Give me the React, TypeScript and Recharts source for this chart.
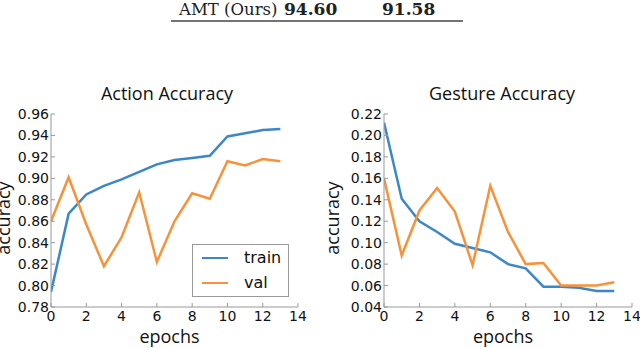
import React from 'react';
import { LineChart, Line, XAxis, YAxis, Legend, Label } from 'recharts';

const epochs = [0, 1, 2, 3, 4, 5, 6, 7, 8, 9, 10, 11, 12, 13];
const actionTrain = [0.794, 0.867, 0.885, 0.893, 0.899, 0.906, 0.913, 0.917, 0.919, 0.921, 0.939, 0.942, 0.945, 0.946];
const actionVal = [0.86, 0.901, 0.857, 0.818, 0.845, 0.887, 0.822, 0.86, 0.886, 0.881, 0.916, 0.912, 0.918, 0.916];
const gestureTrain = [0.212, 0.141, 0.12, 0.11, 0.099, 0.095, 0.091, 0.08, 0.076, 0.059, 0.059, 0.058, 0.055, 0.055];
const gestureVal = [0.16, 0.088, 0.13, 0.151, 0.129, 0.079, 0.153, 0.11, 0.08, 0.081, 0.06, 0.06, 0.06, 0.063];

const xTicks = [0, 2, 4, 6, 8, 10, 12, 14];
const actionTicks = [0.78, 0.8, 0.82, 0.84, 0.86, 0.88, 0.9, 0.92, 0.94, 0.96];
const gestureTicks = [0.04, 0.06, 0.08, 0.1, 0.12, 0.14, 0.16, 0.18, 0.2, 0.22];

const BLUE = '#3c87c8';
const ORANGE = '#f7923a';
const FRAME = '#999';
const TICK_FONT = { fill: '#111', fontSize: 14, fontFamily: 'DejaVu Sans' };
const LABEL_FONT = 'Open Sans';

function LegendBox({ payload }: any) {
  return (
    <div
      style={{
        width: 97,
        height: 53,
        boxSizing: 'border-box',
        border: `1px solid ${FRAME}`,
        background: '#fff',
        fontFamily: 'DejaVu Sans',
        fontSize: 16,
        color: '#111',
        position: 'relative',
      }}
    >
      {(payload || []).map((p: any, i: number) => (
        <div key={p.value} style={{ position: 'absolute', left: 9, top: 3 + i * 25, height: 20, display: 'flex', alignItems: 'center' }}>
          <span style={{ display: 'inline-block', width: 26, height: 2.5, background: p.color, marginRight: 16 }} />
          <span style={{ lineHeight: '20px' }}>{p.value}</span>
        </div>
      ))}
    </div>
  );
}

interface PanelProps {
  train: number[];
  val: number[];
  yTicks: number[];
  axisWidth: number;
  marginRight: number;
  ylabelX: number;
  legend?: boolean;
}

function Panel({ train, val, yTicks, axisWidth, marginRight, ylabelX, legend }: PanelProps) {
  const data = epochs.map((e, i) => ({ epoch: e, train: train[i], val: val[i] }));
  const domain = [yTicks[0], yTicks[yTicks.length - 1]];
  return (
    <LineChart width={320} height={268} data={data} margin={{ top: 34, right: marginRight, bottom: 0, left: 0 }}>
      <XAxis
        dataKey="epoch"
        type="number"
        domain={[0, 14]}
        ticks={xTicks}
        allowDataOverflow
        height={41}
        tickSize={-4}
        tickMargin={8}
        stroke={FRAME}
        tick={TICK_FONT}
      >
        <Label
          content={(p: any) => (
            <text
              x={p.viewBox.x + p.viewBox.width / 2 - 5}
              y={p.viewBox.y + 36}
              textAnchor="middle"
              fontFamily={LABEL_FONT}
              fontSize={18}
              fill="#111"
            >
              epochs
            </text>
          )}
        />
      </XAxis>
      <XAxis
        xAxisId="top"
        orientation="top"
        type="number"
        domain={[0, 14]}
        ticks={xTicks}
        allowDataOverflow
        height={0}
        tickSize={-4}
        tick={false}
        stroke={FRAME}
      />
      <YAxis
        type="number"
        domain={domain}
        ticks={yTicks}
        allowDataOverflow
        width={axisWidth}
        tickSize={-4}
        tickMargin={6}
        stroke={FRAME}
        tick={TICK_FONT}
        tickFormatter={(v: number) => v.toFixed(2)}
      >
        <Label
          content={() => {
            const cy = 218 - 80;
            return (
              <text
                x={ylabelX}
                y={cy}
                transform={`rotate(-90 ${ylabelX} ${cy})`}
                textAnchor="middle"
                fontFamily={LABEL_FONT}
                fontSize={18}
                fill="#111"
              >
                accuracy
              </text>
            );
          }}
        />
      </YAxis>
      <YAxis
        yAxisId="right"
        orientation="right"
        type="number"
        domain={domain}
        ticks={yTicks}
        allowDataOverflow
        width={0}
        tickSize={-4}
        tick={false}
        stroke={FRAME}
      />
      {legend && (
        <Legend
          layout="horizontal"
          verticalAlign="middle"
          align="center"
          wrapperStyle={{ left: 192, top: 164, width: 97, height: 53 }}
          content={<LegendBox />}
        />
      )}
      <Line dataKey="train" name="train" type="linear" stroke={BLUE} strokeWidth={2.5} dot={false} isAnimationActive={false} />
      <Line dataKey="val" name="val" type="linear" stroke={ORANGE} strokeWidth={2.5} dot={false} isAnimationActive={false} />
    </LineChart>
  );
}

export default function App() {
  return (
    <div style={{ position: 'absolute', left: 0, top: 0, width: 640, height: 348, background: '#fff', overflow: 'hidden' }}>
      <div style={{ position: 'absolute', left: 0, top: 80 }}>
        <Panel train={actionTrain} val={actionVal} yTicks={actionTicks} axisWidth={51} marginRight={22} ylabelX={10} legend />
      </div>
      <div style={{ position: 'absolute', left: 320, top: 80 }}>
        <Panel train={gestureTrain} val={gestureVal} yTicks={gestureTicks} axisWidth={64} marginRight={8} ylabelX={19} />
      </div>
      <svg width={640} height={110} style={{ position: 'absolute', left: 0, top: 0, pointerEvents: 'none' }}>
        <g fontFamily="DejaVu Serif" fill="#222">
          <text x={179} y={15} fontSize={16.5}>AMT (Ours)</text>
          <text x={284} y={15} fontSize={17} fontWeight="bold">94.60</text>
          <text x={382} y={15} fontSize={17} fontWeight="bold">91.58</text>
        </g>
        <line x1={171} x2={463} y1={21} y2={21} stroke="#444" strokeWidth={1.5} />
        <g fontFamily={LABEL_FONT} fontSize={18} fill="#111" textAnchor="middle">
          <text x={167} y={100}>Action Accuracy</text>
          <text x={502} y={100}>Gesture Accuracy</text>
        </g>
      </svg>
    </div>
  );
}
